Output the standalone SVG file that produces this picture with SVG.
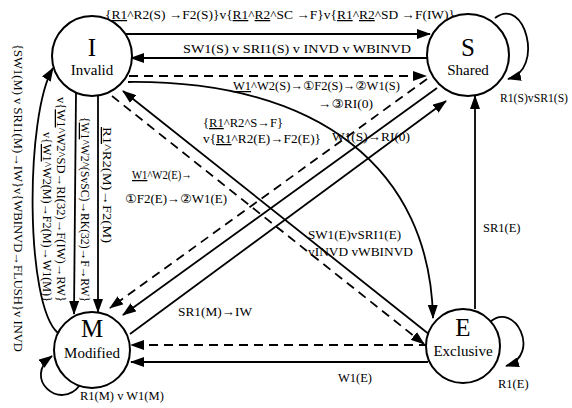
<svg xmlns="http://www.w3.org/2000/svg" width="572" height="408" viewBox="0 0 572 408">
<defs>
<marker id="ah" markerUnits="userSpaceOnUse" markerWidth="14" markerHeight="10" refX="13" refY="5" orient="auto">
<path d="M0,0 L14,5 L0,10 Z" fill="#000"/>
</marker>
<style>
.n{fill:#fff;stroke:#000;stroke-width:2}
.l{fill:none;stroke:#000;stroke-width:1.8}
.d{fill:none;stroke:#000;stroke-width:1.8;stroke-dasharray:9 6}
.a{marker-end:url(#ah)}
text{font-family:"Liberation Serif","DejaVu Serif","DejaVu Sans",serif;fill:#000}
.t{font-size:12.5px}
.big{font-size:25px;text-anchor:middle}
.nm{font-size:15px;text-anchor:middle}
.u{text-decoration:underline}
</style>
</defs>
<rect width="572" height="408" fill="#fff"/>
<g id="connectors">
<line class="l a" x1="120" y1="34" x2="430" y2="34"/>
<line class="l a" x1="428" y1="58" x2="131" y2="58"/>
<line class="d a" x1="129" y1="76" x2="426" y2="76"/>
<path class="l a" d="M128,82 C320,80 430,170 433,318"/>
<line class="d a" x1="112" y1="96" x2="424" y2="344"/>
<line class="l a" x1="430" y1="335" x2="123" y2="91"/>
<line class="d a" x1="427" y1="79" x2="110" y2="308"/>
<line class="l a" x1="437" y1="88" x2="123" y2="315"/>
<line class="l a" x1="130" y1="334" x2="446" y2="101"/>
<line class="l a" x1="98" y1="96" x2="98" y2="312"/>
<line class="l a" x1="76" y1="92" x2="74" y2="314"/>
<path class="l a" d="M58,333 C25,305 25,115 53,68"/>
<line class="l a" x1="475" y1="309" x2="475" y2="96"/>
<line class="l a" x1="428" y1="362" x2="131" y2="362"/>
<line class="d a" x1="428" y1="345" x2="131" y2="345"/>
<path class="l a" d="M495,18 C525,-5 545,70 508,79"/>
<path class="l a" d="M490,322 C515,300 542,355 506,366"/>
<path class="l a" d="M80,385 C60,412 22,378 52,356"/>
</g>
<g id="labels">
<text class="t" x="105" y="19" textLength="350" lengthAdjust="spacingAndGlyphs">{<tspan class="u">R1</tspan>^R2(S) →F2(S)}v{<tspan class="u">R1</tspan>^<tspan class="u">R2</tspan>^SC →F}v{<tspan class="u">R1</tspan>^<tspan class="u">R2</tspan>^SD →F(IW)}</text>
<text class="t" x="183" y="53" textLength="228" lengthAdjust="spacingAndGlyphs">SW1(S) v SRI1(S) v INVD v WBINVD</text>
<text class="t" x="233" y="90" textLength="167" lengthAdjust="spacingAndGlyphs"><tspan class="u">W1</tspan>^W2(S)→①F2(S)→②W1(S)</text>
<text class="t" x="318" y="108" textLength="55" lengthAdjust="spacingAndGlyphs">→③RI(0)</text>
<text class="t" x="203" y="127" textLength="80" lengthAdjust="spacingAndGlyphs">{<tspan class="u">R1</tspan>^R2^S→F}</text>
<text class="t" x="203" y="143" textLength="118" lengthAdjust="spacingAndGlyphs">v{<tspan class="u">R1</tspan>^R2(E)→F2(E)}</text>
<text class="t" x="332" y="141" textLength="78" lengthAdjust="spacingAndGlyphs">W1(S)→RI(0)</text>
<text class="t" x="132" y="179" textLength="60" lengthAdjust="spacingAndGlyphs"><tspan class="u">W1</tspan>^W2(E)→</text>
<text class="t" x="125" y="203" textLength="102" lengthAdjust="spacingAndGlyphs">①F2(E)→②W1(E)</text>
<text class="t" x="308" y="239" textLength="93" lengthAdjust="spacingAndGlyphs">SW1(E)vSRI1(E)</text>
<text class="t" x="308" y="256" textLength="105" lengthAdjust="spacingAndGlyphs">vINVD vWBINVD</text>
<text class="t" x="483" y="232">SR1(E)</text>
<text class="t" x="178" y="316" textLength="74" lengthAdjust="spacingAndGlyphs">SR1(M)→IW</text>
<text class="t" x="338" y="382">W1(E)</text>
<text class="t" x="500" y="102" textLength="68" lengthAdjust="spacingAndGlyphs">R1(S)vSR1(S)</text>
<text class="t" x="498" y="388">R1(E)</text>
<text class="t" x="80" y="400">R1(M) v W1(M)</text>
<text class="t" transform="translate(14,44) rotate(90)" textLength="308" lengthAdjust="spacingAndGlyphs">{SW1(M) v SRI1(M)→IW}v{WBINVD→FLUSH}v INVD</text>
<text class="t" transform="translate(43,132) rotate(90)" textLength="170" lengthAdjust="spacingAndGlyphs">v{<tspan class="u">W1</tspan>^W2(M)→F2(M)→W1(M)}</text>
<text class="t" transform="translate(57,97) rotate(90)" textLength="205" lengthAdjust="spacingAndGlyphs">v{<tspan class="u">W1</tspan>^W2^SD→RI(32)→F(IW)→RW}</text>
<text class="t" transform="translate(81,117) rotate(90)" textLength="185" lengthAdjust="spacingAndGlyphs">{<tspan class="u">W1</tspan>^W2^(SvSC)→RK(32)→F→RW}</text>
<text class="t" transform="translate(103,127) rotate(90)" textLength="116" lengthAdjust="spacingAndGlyphs"><tspan class="u">R1</tspan>^R2(M)→F2(M)</text>
</g>
<g id="node-I">
<circle class="n" cx="92" cy="56" r="40"/>
<text class="big" x="92" y="56">I</text>
<text class="nm" x="92" y="75">Invalid</text>
</g>
<g id="node-S">
<circle class="n" cx="468" cy="55" r="41"/>
<text class="big" x="468" y="56">S</text>
<text class="nm" x="468" y="75">Shared</text>
</g>
<g id="node-M">
<circle class="n" cx="92" cy="350" r="38"/>
<text class="big" x="92" y="337">M</text>
<text class="nm" x="92" y="358">Modified</text>
</g>
<g id="node-E">
<circle class="n" cx="463" cy="346" r="37"/>
<text class="big" x="463" y="336">E</text>
<text class="nm" x="463" y="356">Exclusive</text>
</g>
</svg>
